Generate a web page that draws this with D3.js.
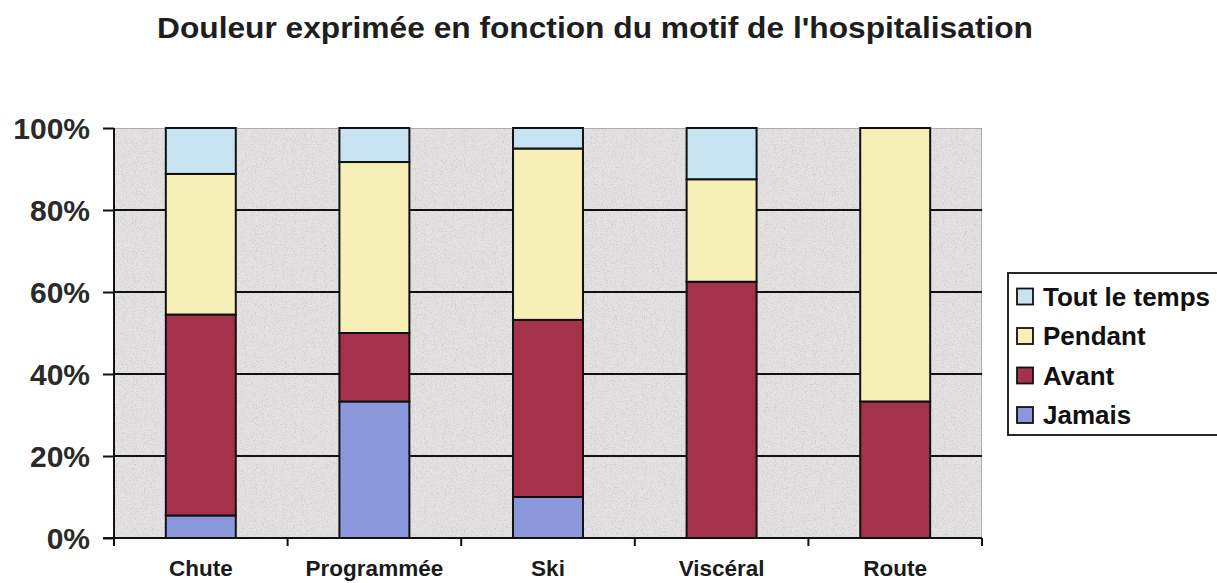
<!DOCTYPE html>
<html>
<head>
<meta charset="utf-8">
<script src="https://cdn.jsdelivr.net/npm/d3@7"></script>
<style>
  html, body { margin: 0; padding: 0; background: #fff; }
  svg { display: block; font-family: "Liberation Sans", Arial, sans-serif; }
</style>
</head>
<body>
<svg id="chart" width="1217" height="583"></svg>
<script>
// Motifs d'hospitalisation (catégories de l'axe X)
const categories = ["Chute", "Programmée", "Ski", "Viscéral", "Route"];

// Répartition de la douleur exprimée (% par motif)
const jamais      = [5.5, 33.3, 10.0, 0, 0];
const avant       = [49.0, 16.7, 43.2, 62.5, 33.3];
const pendant     = [34.3, 41.7, 41.8, 25.0, 66.7];
const toutLeTemps = [11.2, 8.3, 5.0, 12.5, 0];

const seriesNames  = ["Jamais", "Avant", "Pendant", "Tout le temps"];
const seriesColors = ["#8c98dc", "#a3324a", "#f6f0b6", "#c8e4f2"];
const yTicks = [0, 20, 40, 60, 80, 100];

const title = "Douleur exprimée en fonction du motif de l'hospitalisation";

const rows = categories.map((c, i) => ({
  cat: c,
  "Jamais": jamais[i],
  "Avant": avant[i],
  "Pendant": pendant[i],
  "Tout le temps": toutLeTemps[i]
}));

const svg = d3.select("#chart");
const plot = { left: 114, right: 982, top: 128, bottom: 538 };

const x = d3.scaleBand().domain(categories)
  .range([plot.left, plot.right]).paddingInner(0.597).paddingOuter(0.2985);
const y = d3.scaleLinear().domain([0, 100]).range([plot.bottom, plot.top]);
const color = d3.scaleOrdinal().domain(seriesNames).range(seriesColors);

// Texture granuleuse légère du fond de la zone de traçage
const defs = svg.append("defs");
const grain = defs.append("filter").attr("id", "grain")
  .attr("x", 0).attr("y", 0).attr("width", 1).attr("height", 1);
grain.append("feTurbulence").attr("type", "fractalNoise")
  .attr("baseFrequency", "1.1 0.7").attr("numOctaves", 2).attr("seed", 7).attr("result", "noise");
grain.append("feColorMatrix").attr("in", "noise").attr("type", "matrix")
  .attr("values", "0 0 0 0 0.45  0 0 0 0 0.44  0 0 0 0 0.44  0 0 0 -2.6 1.35").attr("result", "dots");
grain.append("feComponentTransfer").attr("in", "dots").attr("result", "soft")
  .append("feFuncA").attr("type", "linear").attr("slope", 0.55);
grain.append("feComposite").attr("in", "soft").attr("in2", "SourceGraphic").attr("operator", "in").attr("result", "dotsIn");
grain.append("feMerge").call(m => {
  m.append("feMergeNode").attr("in", "SourceGraphic");
  m.append("feMergeNode").attr("in", "dotsIn");
});

// Fond de la zone de traçage
svg.append("rect")
  .attr("x", plot.left).attr("y", plot.top)
  .attr("width", plot.right - plot.left).attr("height", plot.bottom - plot.top)
  .attr("fill", "#e4e2e2").attr("stroke", "#8a8a8a").attr("stroke-width", 1.2)
  .attr("filter", "url(#grain)");

// Quadrillage horizontal
svg.append("g").selectAll("line")
  .data(yTicks.filter(t => t > 0 && t < 100))
  .join("line")
  .attr("x1", plot.left).attr("x2", plot.right)
  .attr("y1", d => y(d)).attr("y2", d => y(d))
  .attr("stroke", "#111").attr("stroke-width", 2);

// Barres empilées
const stack = d3.stack().keys(seriesNames)(rows);
svg.append("g").selectAll("g")
  .data(stack)
  .join("g")
  .attr("fill", d => color(d.key))
  .selectAll("rect")
  .data(d => d.filter(s => s[1] - s[0] > 0))
  .join("rect")
  .attr("x", d => x(d.data.cat))
  .attr("width", x.bandwidth())
  .attr("y", d => y(d[1]))
  .attr("height", d => y(d[0]) - y(d[1]))
  .attr("stroke", "#111").attr("stroke-width", 2);

// Axe Y
const yAxis = svg.append("g")
  .attr("transform", `translate(${plot.left},0)`)
  .call(d3.axisLeft(y).tickValues(yTicks).tickFormat(d => d + "%").tickSize(11).tickPadding(13));
yAxis.select(".domain").attr("stroke", "#111").attr("stroke-width", 2)
  .attr("d", `M0,${plot.top}V${plot.bottom + 8}`);
yAxis.selectAll(".tick line").attr("stroke", "#111").attr("stroke-width", 2);
yAxis.selectAll(".tick text")
  .attr("font-size", 30).attr("font-weight", "bold").attr("fill", "#2a2a2a")
  .attr("dy", "0.36em");

// Axe X : graduations aux limites des catégories
const xAxis = svg.append("g").attr("transform", `translate(0,${plot.bottom})`);
xAxis.append("line")
  .attr("x1", plot.left - 11).attr("x2", plot.right)
  .attr("stroke", "#111").attr("stroke-width", 2);
const bounds = categories.map(c => x(c) - x.step() * x.paddingInner() / 2)
  .concat([plot.right]);
xAxis.selectAll(".xtick").data(bounds).join("line")
  .attr("class", "xtick")
  .attr("x1", d => d).attr("x2", d => d).attr("y1", 0).attr("y2", 8)
  .attr("stroke", "#111").attr("stroke-width", 2);
xAxis.selectAll(".xlabel").data(categories).join("text")
  .attr("class", "xlabel")
  .attr("x", d => x(d) + x.bandwidth() / 2).attr("y", 38)
  .attr("text-anchor", "middle")
  .attr("font-size", 22.5).attr("font-weight", "bold").attr("fill", "#1a1a1a")
  .text(d => d);

// Titre
svg.append("text")
  .attr("x", 595).attr("y", 38)
  .attr("text-anchor", "middle")
  .attr("font-size", 29).attr("font-weight", "bold").attr("fill", "#1e1e1e")
  .attr("textLength", 876).attr("lengthAdjust", "spacingAndGlyphs")
  .text(title);

// Légende (ordre inverse de l'empilement)
const legend = svg.append("g");
legend.append("rect")
  .attr("x", 1008).attr("y", 273).attr("width", 230).attr("height", 162)
  .attr("fill", "#fff").attr("stroke", "#111").attr("stroke-width", 1.8);
const items = legend.selectAll(".item")
  .data(seriesNames.slice().reverse())
  .join("g").attr("class", "item")
  .attr("transform", (d, i) => `translate(1017,${296.5 + i * 39.5})`);
items.append("rect")
  .attr("x", 0).attr("y", -8).attr("width", 16).attr("height", 16)
  .attr("fill", d => color(d)).attr("stroke", "#111").attr("stroke-width", 1.8);
items.append("text")
  .attr("x", 26).attr("y", 0).attr("dy", "0.36em")
  .attr("font-size", 26).attr("font-weight", "bold").attr("fill", "#111")
  .text(d => d);
</script>
</body>
</html>
